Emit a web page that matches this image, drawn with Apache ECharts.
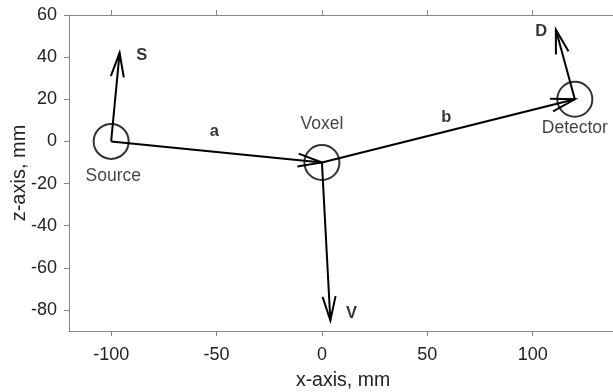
<!DOCTYPE html>
<html>
<head>
<meta charset="utf-8">
<script src="https://cdn.jsdelivr.net/npm/echarts@6/dist/echarts.min.js"></script>
<style>
  html, body { margin: 0; padding: 0; background: #fff; }
  #chart { width: 613px; height: 392px; }
</style>
</head>
<body>
<div id="chart"></div>
<script>
// Geometry of the scatter setup (mm)
const pointNames = ['Source', 'Voxel', 'Detector'];
const pointX = [-100, 0, 120];
const pointZ = [0, -10, 20];
const pointLabelX = [-99, 0, 120];
const pointLabelZ = [-16.5, 8.2, 6.5];

// Vectors drawn as arrows
const arrowNames = ['a', 'b', 'S', 'V', 'D'];
const arrowStartX = [-100, 0, -100, 0, 120];
const arrowStartZ = [0, -10, 0, -10, 20];
const arrowEndX = [0, 120, -96, 4, 111];
const arrowEndZ = [-10, 20, 42, -85, 53];
const arrowLabelX = [-51, 59, -85.5, 14, 104];
const arrowLabelZ = [4.5, 11.5, 41, -81.5, 52];

const xTicks = [-100, -50, 0, 50, 100];
const zTicks = [-80, -60, -40, -20, 0, 20, 40, 60];

const FONT = '"Liberation Sans", Arial, Helvetica, sans-serif';
const AXIS_GRAY = '#868686';
const TEXT_DARK = '#222222';

const arrowData = arrowNames.map((n, i) => [arrowStartX[i], arrowStartZ[i], arrowEndX[i], arrowEndZ[i]]);

// Quiver-style arrow: shaft plus an open two-stroke head at the tip
function renderArrow(params, api) {
  const p0 = api.coord([api.value(0), api.value(1)]);
  const p1 = api.coord([api.value(2), api.value(3)]);
  const dx = p1[0] - p0[0], dy = p1[1] - p0[1];
  const len = Math.sqrt(dx * dx + dy * dy);
  const ux = dx / len, uy = dy / len;
  const headLen = 24, headHalf = 6.5;
  const bx = p1[0] - ux * headLen, by = p1[1] - uy * headLen;
  const w1 = [bx - uy * headHalf, by + ux * headHalf];
  const w2 = [bx + uy * headHalf, by - ux * headHalf];
  const style = { stroke: '#000', lineWidth: 2, fill: null };
  return {
    type: 'group',
    children: [
      { type: 'line', shape: { x1: p0[0], y1: p0[1], x2: p1[0], y2: p1[1] }, style: style },
      { type: 'polyline', shape: { points: [w1, p1, w2] }, style: style }
    ]
  };
}

const chart = echarts.init(document.getElementById('chart'), null, { renderer: 'canvas' });

const xAxisBase = {
  type: 'value', min: -120, max: 140, interval: 50,
  splitLine: { show: false },
  axisLine: { show: true, onZero: false, lineStyle: { color: AXIS_GRAY, width: 1 } },
  axisTick: { show: true, length: 5, customValues: xTicks, lineStyle: { color: AXIS_GRAY } },
  axisLabel: {
    color: TEXT_DARK, fontFamily: FONT, fontSize: 18, margin: 15,
    customValues: xTicks
  }
};

chart.setOption({
  animation: false,
  backgroundColor: '#fff',
  grid: { left: 69, top: 15, width: 548, height: 316, containLabel: false, outerBoundsMode: 'none' },
  xAxis: [
    Object.assign({}, xAxisBase, {
      position: 'bottom',
      name: 'x-axis, mm', nameLocation: 'middle', nameGap: 40, nameMoveOverlap: false,
      nameTextStyle: { color: TEXT_DARK, fontFamily: FONT, fontSize: 19.5 }
    }),
    Object.assign({}, xAxisBase, {
      position: 'top',
      axisLabel: { show: false }
    })
  ],
  yAxis: [{
    type: 'value', min: -90, max: 60, interval: 10,
    splitLine: { show: false },
    axisLine: { show: true, onZero: false, lineStyle: { color: AXIS_GRAY, width: 1 } },
    axisTick: { show: true, length: 5, customValues: zTicks, lineStyle: { color: AXIS_GRAY } },
    axisLabel: { color: TEXT_DARK, fontFamily: FONT, fontSize: 18, margin: 12, customValues: zTicks },
    name: 'z-axis, mm', nameLocation: 'middle', nameGap: 40, nameMoveOverlap: false,
    nameTextStyle: { color: TEXT_DARK, fontFamily: FONT, fontSize: 20 }
  }],
  series: [
    {
      type: 'custom',
      renderItem: renderArrow,
      data: arrowData,
      encode: { x: [0, 2], y: [1, 3] },
      silent: true,
      z: 3
    },
    {
      type: 'scatter',
      symbol: 'circle',
      symbolSize: 35,
      itemStyle: { color: 'rgba(0,0,0,0)', borderColor: '#000', borderWidth: 2 },
      data: pointX.map((x, i) => [x, pointZ[i]]),
      silent: true,
      z: 4
    },
    {
      type: 'scatter',
      symbolSize: 0,
      data: pointNames.map((n, i) => ({ value: [pointLabelX[i], pointLabelZ[i]], name: n })),
      label: {
        show: true, position: 'inside', formatter: p => p.name,
        color: '#111', fontFamily: FONT, fontSize: 17.5
      },
      silent: true,
      z: 5
    },
    {
      type: 'scatter',
      symbolSize: 0,
      data: arrowNames.map((n, i) => ({ value: [arrowLabelX[i], arrowLabelZ[i]], name: n })),
      label: {
        show: true, position: 'inside', formatter: p => p.name,
        color: '#000', fontFamily: FONT, fontSize: 16.5, fontWeight: 'bold'
      },
      silent: true,
      z: 5
    }
  ]
});
</script>
</body>
</html>
